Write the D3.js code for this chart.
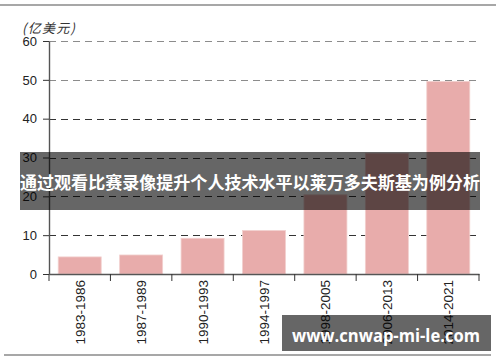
<!DOCTYPE html>
<html>
<head>
<meta charset="utf-8">
<script src="https://cdn.jsdelivr.net/npm/d3@7"></script>
<style>
  body { margin: 0; background: #fff; }
  svg { display: block; font-family: "Liberation Sans", Arial, sans-serif; }
</style>
</head>
<body>
<div id="chart"></div>
<script>
// Data ----------------------------------------------------------------------------------------------
const periods = ["1983-1986", "1987-1989", "1990-1993", "1994-1997", "1998-2005", "2006-2013", "2014-2021"];
const values = [4.4, 4.9, 9.2, 11.2, 20.4, 31.1, 49.6];
const yTicks = [0, 10, 20, 30, 40, 50, 60];
const unitLabel = "(亿美元)";
const bannerText = "通过观看比赛录像提升个人技术水平以莱万多夫斯基为例分析";
const watermark = "www.cnwap-mi-le.com";

// Dimensions ----------------------------------------------------------------------------------------
const width = 500, height = 362;
const margin = {top: 41, left: 49, right: 21, bottom: 88};

const svg = d3.select("#chart").append("svg")
  .attr("width", width)
  .attr("height", height);

// Frame lines
svg.append("line")
  .attr("x1", 0).attr("x2", 496).attr("y1", 5).attr("y2", 5)
  .attr("stroke", "#8a8a8a").attr("stroke-width", 1.6);
svg.append("line")
  .attr("x1", 4).attr("x2", 491).attr("y1", 355).attr("y2", 355)
  .attr("stroke", "#8a8a8a").attr("stroke-width", 1.6);

// Scales --------------------------------------------------------------------------------------------
const x = d3.scaleBand()
  .domain(periods)
  .range([margin.left, width - margin.right])
  .paddingInner(0.3)
  .paddingOuter(0.15);

const y = d3.scaleLinear()
  .domain([0, 60])
  .range([274, margin.top]);

// Grid lines
svg.append("g")
  .selectAll("line")
  .data(yTicks.filter(d => d > 0))
  .join("line")
  .attr("x1", margin.left)
  .attr("x2", width - margin.right)
  .attr("y1", d => Math.round(y(d)) + 0.5)
  .attr("y2", d => Math.round(y(d)) + 0.5)
  .attr("stroke", d => d >= 50 ? "#8c8c8c" : "#333")
  .attr("stroke-width", 1)
  .attr("stroke-dasharray", "7,5");

// Bars ----------------------------------------------------------------------------------------------
svg.append("g")
  .selectAll("rect")
  .data(values)
  .join("rect")
  .attr("x", (d, i) => x(periods[i]))
  .attr("y", d => y(d))
  .attr("width", x.bandwidth())
  .attr("height", d => y(0) - y(d))
  .attr("fill", "#e8acab")
  .attr("stroke", "#f2d0cf")
  .attr("stroke-width", 0.8);

// Axes ----------------------------------------------------------------------------------------------
const yAxis = svg.append("g")
  .attr("transform", `translate(${margin.left},0)`)
  .call(d3.axisLeft(y).tickValues(yTicks).tickSize(6).tickPadding(6).tickSizeOuter(0));
yAxis.select(".domain").attr("stroke", "#555").attr("stroke-width", 1.4);
yAxis.selectAll(".tick line").attr("stroke", "#333");
yAxis.selectAll(".tick text")
  .attr("fill", "#222")
  .style("font-size", "13px");

const xAxis = svg.append("g")
  .attr("transform", `translate(0,${y(0)})`)
  .call(d3.axisBottom(x).tickSize(0).tickFormat(""));
xAxis.select(".domain").attr("stroke", "#555").attr("stroke-width", 1.4);

// band edge ticks
const edges = d3.range(periods.length + 1).map(i => margin.left + i * (width - margin.right - margin.left) / periods.length);
xAxis.selectAll(".edge")
  .data(edges)
  .join("line")
  .attr("class", "edge")
  .attr("x1", d => d).attr("x2", d => d)
  .attr("y1", 0).attr("y2", 7)
  .attr("stroke", "#333");

// rotated category labels
svg.append("g")
  .selectAll("text")
  .data(periods)
  .join("text")
  .attr("transform", d => `translate(${x(d) + x.bandwidth() / 2 + 5},280) rotate(-90)`)
  .attr("text-anchor", "end")
  .attr("fill", "#222")
  .style("font-size", "13.5px")
  .text(d => d);

// unit label
svg.append("text")
  .attr("x", 22)
  .attr("y", 33)
  .attr("fill", "#333")
  .style("font-family", "'Noto Sans CJK SC', sans-serif")
  .style("font-style", "italic")
  .style("font-size", "13px")
  .attr("textLength", 53)
  .attr("lengthAdjust", "spacing")
  .text(unitLabel);

// Overlays ------------------------------------------------------------------------------------------
svg.append("rect")
  .attr("x", 20).attr("y", 152)
  .attr("width", 460).attr("height", 58)
  .attr("fill", "rgba(0,0,0,0.6)");
svg.append("text")
  .attr("x", 250)
  .attr("y", 189)
  .attr("text-anchor", "middle")
  .attr("fill", "#fff")
  .style("font-family", "'Noto Sans CJK SC', sans-serif")
  .style("font-weight", "bold")
  .style("font-size", "17.5px")
  .attr("textLength", 460)
  .attr("lengthAdjust", "spacingAndGlyphs")
  .text(bannerText);

svg.append("rect")
  .attr("x", 282).attr("y", 315)
  .attr("width", 209).attr("height", 36)
  .attr("fill", "rgba(0,0,0,0.6)");
svg.append("text")
  .attr("x", 386)
  .attr("y", 342)
  .attr("text-anchor", "middle")
  .attr("fill", "#fff")
  .style("font-family", "'Open Sans', sans-serif")
  .style("font-weight", "bold")
  .style("font-size", "17px")
  .attr("textLength", 188)
  .attr("lengthAdjust", "spacingAndGlyphs")
  .text(watermark);
</script>
</body>
</html>
